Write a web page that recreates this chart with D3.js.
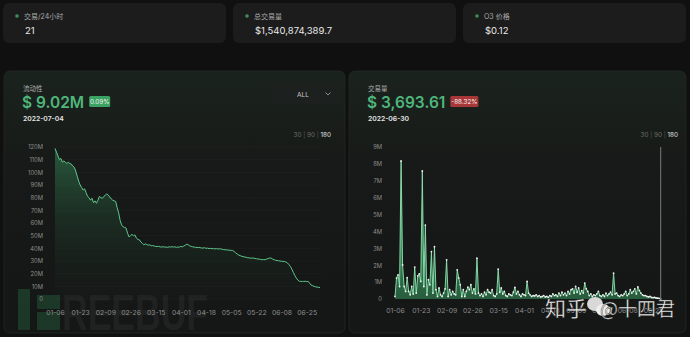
<!DOCTYPE html>
<html><head><meta charset="utf-8">
<script src="https://cdn.jsdelivr.net/npm/d3@7"></script>
<style>
html,body{margin:0;padding:0;background:#101010;}
svg{display:block;font-family:Inter,"Noto Sans CJK SC",sans-serif;}
</style></head>
<body>
<svg id="c" width="690" height="337"></svg>
<script>
// ---------- DATA ----------
const statLabels = ["交易/24小时", "总交易量", "O3 价格"];
const statValues = ["21", "$1,540,874,389.7", "$0.12"];

const liqTitle = "流动性", liqValue = "$ 9.02M", liqChange = "0.09%", liqDate = "2022-07-04";
const volTitle = "交易量", volValue = "$ 3,693.61", volChange = "-88.32%", volDate = "2022-06-30";
const rangeLabels = ["30", "90", "180"];
const dropdownLabel = "ALL";

const startDate = "2022-01-06";
const endDate = "2022-07-04";
const xTickLabels = ["01-06","01-23","02-09","02-26","03-15","04-01","04-18","05-05","05-22","06-08","06-25"];
const liqTickLabels = ["0","10M","20M","30M","40M","50M","60M","70M","80M","90M","100M","110M","120M"];
const volTickLabels = ["0","1M","2M","3M","4M","5M","6M","7M","8M","9M"];

// liquidity, millions USD, daily from 01-06 to 07-04
const liquidity = [
118.9,116,113,110,111,108,109,108,107,108,
107,106.5,105,104,101,97,93,90,88,86,
87,84,81,80,78,79.5,76,77.5,75.6,78,
81,80,79.5,81,82,83,82,80.5,79,78,
77.5,77,72,68,62,58.5,57,56.5,56,52,
49,50,51,50,50.6,48,47,46.7,45,44,
42.8,43.5,43,42.5,42.8,42,42.2,41.8,41.5,41.4,
41.6,41.2,41,41.3,41,41,40.8,41.2,41,41.3,
41,41.2,40.8,41,41,41.5,41.2,41.8,42.5,43.2,
42.8,42,41.5,41.2,41,40.8,40.6,40.8,40.5,40.3,
40.2,40.5,40,40.2,39.8,40,39.8,39.7,39.6,39.8,
39.5,39.6,39.6,39.2,39,38.8,38.9,38.5,38.6,38.3,
38.3,37.5,36.5,35.5,34.8,34.2,33.8,33.5,33.2,33,
32.6,32.5,32.3,32.3,32.3,32,31.8,31.6,31.5,31.2,
31,31.2,31,31.5,32,32.3,32.3,31.5,31,30.6,
30.4,30.2,30,29.8,29.7,29.6,29.2,28.5,27.2,25.7,
23.5,21,18.5,16.5,15,14,13.9,13.9,13.9,14,
13.8,13.9,12.5,11,10.5,10,9.6,9.4,9.2,9.02
];

// volume, millions USD, daily from 01-06 to 06-30
const volume = [
0.15,1.24,1.43,0.74,8.17,2.02,0.74,0.45,1.27,0.45,
0.25,0.74,0.29,1.89,0.35,1.37,1.49,1.04,7.58,0.74,
4.38,0.24,1.14,0.84,2.81,0.35,3.1,0.55,0.15,0.65,
0.25,0.15,0.35,0.6,2.32,0.15,0.55,0.25,0.45,0.3,
0.25,1.73,1.24,0.84,0.15,0.55,0.15,0.45,0.7,0.55,
0.85,0.35,0.6,0.3,2.42,0.35,0.2,0.3,0.15,0.4,
0.25,0.55,0.4,0.35,0.55,0.2,0.15,0.3,1.77,0.4,
0.65,0.3,0.45,0.2,0.15,0.3,0.25,0.2,0.4,0.68,
0.3,0.45,0.25,0.15,0.3,0.25,0.2,1.04,0.35,0.25,
0.15,0.2,0.18,0.25,0.15,0.2,0.12,0.15,0.2,0.12,
0.15,0.1,0.2,0.15,0.3,0.2,0.25,0.15,0.35,0.2,
0.4,0.25,0.35,0.2,0.45,0.3,0.55,0.6,0.35,0.75,
0.4,0.65,0.3,0.5,0.35,0.94,0.6,0.45,0.2,0.3,
0.15,0.25,0.2,0.3,0.45,0.2,0.15,0.25,0.15,0.35,
0.2,0.3,0.4,0.25,1.53,0.3,0.35,0.2,0.15,0.25,
0.2,0.3,0.45,0.2,0.3,0.55,0.35,0.45,0.6,0.3,
0.71,0.5,0.35,0.25,0.2,0.2,0.15,0.12,0.15,0.1,
0.08,0.1,0.06,0.05,0.04,0.0037
];

// ---------- DRAW ----------
const svg = d3.select("#c");
const fmt = d3.timeFormat("%m-%d");
const parse = d3.timeParse("%Y-%m-%d");
const days = d3.timeDay.range(parse(startDate), d3.timeDay.offset(parse(endDate), 1)).map(fmt);

const defs = svg.append("defs");
function grad(id, stops) {
  const g = defs.append("linearGradient").attr("id", id).attr("x1", 0).attr("y1", 0).attr("x2", 0).attr("y2", 1);
  stops.forEach(s => g.append("stop").attr("offset", s[0]).attr("stop-color", s[1]).attr("stop-opacity", s[2]));
}
grad("panelBg", [[0, "#1b231e", 1], [0.35, "#171a18", 1], [1, "#151616", 1]]);
grad("liqArea", [[0, "#3fa66a", 0.45], [0.5, "#2a6a45", 0.22], [1, "#1a3325", 0.05]]);
grad("volArea", [[0, "#5fd391", 1], [1, "#2f7a4e", 0.7]]);

// stat cards
const cardX = [3, 233, 463], cardW = [223, 223, 223];
statLabels.forEach((lab, i) => {
  const g = svg.append("g").attr("transform", `translate(${cardX[i]},3)`);
  g.append("rect").attr("width", cardW[i]).attr("height", 40).attr("rx", 6).attr("fill", "#1c1c1c");
  g.append("circle").attr("cx", 14).attr("cy", 13).attr("r", 1.8).attr("fill", "#3e8d5c");
  g.append("text").attr("x", 21).attr("y", 15.5).attr("font-size", 7).attr("fill", "#a9a9a9").text(lab);
  g.append("text").attr("x", 22).attr("y", 31).attr("font-size", 9.5).attr("fill", "#e8e8e8").text(statValues[i]);
});

// panels
function panel(x, w) {
  svg.append("rect").attr("x", x).attr("y", 71).attr("width", w).attr("height", 262).attr("rx", 6)
    .attr("fill", "url(#panelBg)").attr("stroke", "#222824").attr("stroke-width", 0.8);
}
panel(4, 341);
panel(349, 337);

// background watermark (FreeBuf logo)
const wm = svg.append("g").attr("opacity", 0.7);
wm.append("rect").attr("x", 18).attr("y", 289).attr("width", 12).attr("height", 41).attr("fill", "#1f4630");
wm.append("rect").attr("x", 37).attr("y", 295).attr("width", 23).attr("height", 14).attr("fill", "#1f4630");
wm.append("rect").attr("x", 37).attr("y", 312).attr("width", 23).attr("height", 18).attr("fill", "#1f4630");
wm.append("text").attr("x", 62).attr("y", 330).attr("font-size", 50).attr("font-weight", 700)
  .attr("font-family", "'Liberation Sans',sans-serif").attr("textLength", 146).attr("lengthAdjust", "spacingAndGlyphs")
  .attr("fill", "#262626").text("REEBUF");

function header(x, title, value, change, date, badgeColor, badgeW) {
  svg.append("text").attr("x", x).attr("y", 91).attr("font-size", 6.5).attr("fill", "#b0b0b0").text(title);
  const v = svg.append("text").attr("x", x - 1).attr("y", 107.5).attr("font-size", 15.5).attr("font-weight", 600)
    .attr("fill", "#4fb67b").text(value);
  const vw = v.node().getComputedTextLength();
  const bx = x - 1 + vw + 5;
  svg.append("rect").attr("x", bx).attr("y", 96).attr("width", badgeW).attr("height", 11).attr("rx", 1.5).attr("fill", badgeColor);
  svg.append("text").attr("x", bx + badgeW / 2).attr("y", 104).attr("text-anchor", "middle").attr("font-size", 6.3)
    .attr("fill", "#f2f2f2").text(change);
  svg.append("text").attr("x", x).attr("y", 121).attr("font-size", 6.8).attr("font-weight", 600).attr("fill", "#e6e6e6").text(date);
}
header(23, liqTitle, liqValue, liqChange, liqDate, "#3aa262", 21);
header(368, volTitle, volValue, volChange, volDate, "#a83838", 28);

// dropdown
svg.append("rect").attr("x", 272).attr("y", 83).attr("width", 70).attr("height", 21).attr("rx", 3).attr("fill", "#1c201e");
svg.append("text").attr("x", 303).attr("y", 96.5).attr("text-anchor", "middle").attr("font-size", 6.5).attr("fill", "#c8c8c8").text(dropdownLabel);
svg.append("path").attr("d", "M325.5,92.5 L328,95 L330.5,92.5").attr("fill", "none").attr("stroke", "#aaa").attr("stroke-width", 0.8);

// range selector
function ranges(xRight) {
  const t = svg.append("text").attr("x", xRight).attr("y", 137).attr("text-anchor", "end").attr("font-size", 6.3);
  rangeLabels.forEach((r, i) => {
    t.append("tspan").attr("fill", i === rangeLabels.length - 1 ? "#e0e0e0" : "#6d6d6d").text(r);
    if (i < rangeLabels.length - 1) t.append("tspan").attr("fill", "#555").text(" | ");
  });
}
ranges(331);
ranges(678);

// ---------- liquidity chart ----------
const xL = d3.scalePoint().domain(days).range([55, 320]);
const yL = d3.scaleLinear().domain([0, 120]).range([299, 147]);
const gL = svg.append("g");
gL.append("g").selectAll("line").data(d3.range(0, 121, 10)).join("line")
  .attr("x1", 55).attr("x2", 321).attr("y1", d => yL(d)).attr("y2", d => yL(d))
  .attr("stroke", "#ffffff").attr("stroke-opacity", 0.05).attr("stroke-width", 0.6);
const ayL = gL.append("g").attr("transform", "translate(46,0)")
  .call(d3.axisLeft(yL).tickValues(d3.range(0, 121, 10)).tickFormat((d, i) => liqTickLabels[i]).tickSize(0));
ayL.select(".domain").remove();
ayL.selectAll("text").attr("font-size", 5.8).attr("fill", "#8e8e8e").attr("font-family", "Inter,sans-serif");
const axL = gL.append("g").attr("transform", "translate(0,307)")
  .call(d3.axisBottom(xL).tickValues(xTickLabels).tickSize(0));
axL.select(".domain").remove();
axL.selectAll("text").attr("font-size", 6.8).attr("fill", "#8d8d8d").attr("font-family", "Inter,sans-serif");

const liqPts = liquidity.map((v, i) => [days[i], v]);
gL.append("path").datum(liqPts)
  .attr("d", d3.area().x(d => xL(d[0])).y0(yL(0)).y1(d => yL(d[1])))
  .attr("fill", "url(#liqArea)");
gL.append("path").datum(liqPts)
  .attr("d", d3.line().x(d => xL(d[0])).y(d => yL(d[1])))
  .attr("fill", "none").attr("stroke", "#5ec88b").attr("stroke-width", 1);

// ---------- volume chart ----------
const xV = d3.scalePoint().domain(days).range([395, 666.7]);
const yV = d3.scaleLinear().domain([0, 9]).range([299, 147]);
const gV = svg.append("g");
const ayV = gV.append("g").attr("transform", "translate(385,0)")
  .call(d3.axisLeft(yV).tickValues(d3.range(0, 10, 1)).tickFormat((d, i) => volTickLabels[i]).tickSize(0));
ayV.select(".domain").remove();
ayV.selectAll("text").attr("font-size", 5.8).attr("fill", "#8e8e8e").attr("font-family", "Inter,sans-serif");
const axV = gV.append("g").attr("transform", "translate(0,305)")
  .call(d3.axisBottom(xV).tickValues(xTickLabels).tickSize(0));
axV.select(".domain").remove();
axV.selectAll("text").attr("font-size", 6.8).attr("fill", "#8d8d8d").attr("font-family", "Inter,sans-serif");

const volPts = volume.map((v, i) => [days[i], v]);
gV.append("path").datum(volPts)
  .attr("d", d3.area().x(d => xV(d[0])).y0(yV(0)).y1(d => yV(d[1])))
  .attr("fill", "url(#volArea)");
gV.append("path").datum(volPts)
  .attr("d", d3.line().x(d => xV(d[0])).y(d => yV(d[1])))
  .attr("fill", "none").attr("stroke", "#8fe3b0").attr("stroke-width", 0.9);
gV.append("g").selectAll("circle").data(volPts).join("circle")
  .attr("cx", d => xV(d[0])).attr("cy", d => yV(d[1])).attr("r", 0.9).attr("fill", "#f2f2f2");
// axis pointer at last point
const lastDay = days[volume.length - 1];
gV.append("line").attr("x1", xV(lastDay)).attr("x2", xV(lastDay)).attr("y1", yV(9)).attr("y2", yV(0))
  .attr("stroke", "#6a6a6a").attr("stroke-width", 1.2);

// foreground watermark
const zh = svg.append("g");
zh.append("text").attr("x", 545).attr("y", 316).attr("font-size", 21).attr("font-family", "'Noto Sans CJK SC',sans-serif")
  .attr("fill", "#f4f4f4").attr("stroke", "#222").attr("stroke-width", 0.4).text("知乎");
zh.append("ellipse").attr("cx", 595).attr("cy", 304).attr("rx", 8).attr("ry", 7).attr("fill", "#d8d8d8");
zh.append("ellipse").attr("cx", 603).attr("cy", 310).attr("rx", 7).attr("ry", 6).attr("fill", "#eeeeee");
zh.append("text").attr("x", 600).attr("y", 316).attr("font-size", 19).attr("font-family", "'Noto Sans CJK SC',sans-serif")
  .attr("fill", "#f4f4f4").attr("stroke", "#222").attr("stroke-width", 0.4).text("@十四君");
</script>
</body></html>
